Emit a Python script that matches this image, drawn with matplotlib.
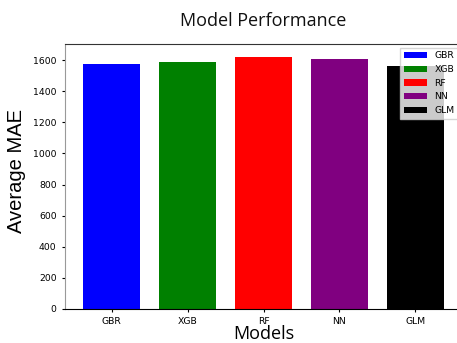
import matplotlib
matplotlib.use("Agg")
import matplotlib.pyplot as plt

models = ["GBR", "XGB", "RF", "NN", "GLM"]
mae = [1577, 1585, 1622, 1604, 1561]
colors = ["blue", "green", "red", "purple", "black"]

fig = plt.figure(figsize=(4.57, 3.43), dpi=100)
W, H = 457, 343
ax = fig.add_axes([65 / W, (H - 309) / H, (462 - 65) / W, (309 - 44) / H])

for i, (m, v, c) in enumerate(zip(models, mae, colors)):
    ax.bar(i, v, width=0.75, color=c, label=m)

ax.set_xticks(range(len(models)))
ax.set_xticklabels(models)
ax.tick_params(axis="both", labelsize=6.7, length=2.5, width=0.8)
ax.set_ylim(0, 1703)

ax.spines["left"].set_color("#999999")
ax.spines["top"].set_color("#333333")

fig.text((65 + 462) / 2 / W, 1 - 21 / H, "Model Performance", ha="center", va="center",
         fontsize=13, family="Open Sans", color="#111111")
ax.set_ylabel("Average MAE", fontsize=14.5, family="Liberation Sans", labelpad=5, y=0.52)
ax.set_xlabel("Models", fontsize=13, family="Open Sans", labelpad=-1)

leg = ax.legend(loc="upper right", fontsize=6.7, frameon=True, fancybox=False,
                handlelength=2.5, borderaxespad=0.4)
leg.get_frame().set_edgecolor("#cccccc")

fig.savefig("out.png", dpi=100)
